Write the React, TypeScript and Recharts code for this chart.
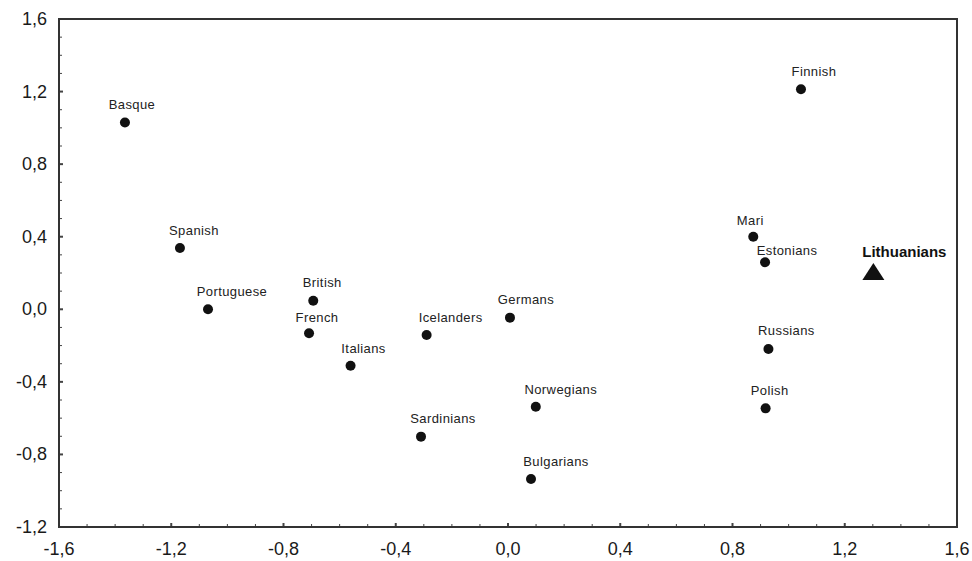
import { ScatterChart, Scatter, XAxis, YAxis } from 'recharts';

const populations = ['Basque', 'Spanish', 'Portuguese', 'British', 'French', 'Italians', 'Icelanders', 'Germans', 'Norwegians', 'Sardinians', 'Bulgarians', 'Finnish', 'Mari', 'Estonians', 'Russians', 'Polish'];
const dim1 = [-1.365, -1.169, -1.069, -0.694, -0.709, -0.561, -0.29, 0.007, 0.099, -0.31, 0.082, 1.044, 0.874, 0.916, 0.928, 0.918];
const dim2 = [1.03, 0.338, 0.0, 0.047, -0.132, -0.311, -0.142, -0.046, -0.537, -0.702, -0.935, 1.213, 0.4, 0.259, -0.219, -0.546];

const target = ['Lithuanians'];
const targetX = [1.302];
const targetY = [0.205];

const xTicks = [-1.6, -1.5, -1.4, -1.3, -1.2, -1.1, -1.0, -0.9, -0.8, -0.7, -0.6, -0.5, -0.4, -0.3, -0.2, -0.1, 0, 0.1, 0.2, 0.3, 0.4, 0.5, 0.6, 0.7, 0.8, 0.9, 1.0, 1.1, 1.2, 1.3, 1.4, 1.5, 1.6];
const yTicks = [-1.2, -1.1, -1.0, -0.9, -0.8, -0.7, -0.6, -0.5, -0.4, -0.3, -0.2, -0.1, 0, 0.1, 0.2, 0.3, 0.4, 0.5, 0.6, 0.7, 0.8, 0.9, 1.0, 1.1, 1.2, 1.3, 1.4, 1.5, 1.6];

// label placement relative to the marker (dx, dy to text baseline)
const labelOffset: Record<string, [number, number]> = {
  Basque: [7, -13],
  Spanish: [14, -13],
  Portuguese: [24, -13],
  British: [9, -14],
  French: [8, -11],
  Italians: [13, -13],
  Icelanders: [24, -13],
  Germans: [16, -14],
  Norwegians: [25, -13],
  Sardinians: [22, -14],
  Bulgarians: [25, -13],
  Finnish: [13, -13],
  Mari: [-3, -12],
  Estonians: [22, -7],
  Russians: [18, -14],
  Polish: [4, -13],
  Lithuanians: [31, -15],
};

const points = populations.map((name, i) => ({ name, x: dim1[i], y: dim2[i] }));
const targetPoints = target.map((name, i) => ({ name, x: targetX[i], y: targetY[i] }));

const FONT = '"Liberation Sans", Arial, sans-serif';
const W = 972;
const H = 561;
const M = { top: 19, right: 15, left: 0, bottom: 0 };
const Y_W = 59;
const X_H = 34;

const isMajor = (v: number) => Math.abs(Math.round(v * 10)) % 4 === 0;
const fmt = (v: number) => v.toFixed(1).replace('.', ',');

const XTick = (props: any) => {
  const { x, y, payload } = props;
  const major = isMajor(payload.value);
  return (
    <g>
      <line x1={x} x2={x} y1={y} y2={y - (major ? 4 : 3)} stroke="#444" strokeWidth={major ? 2 : 1} />
      {major && (
        <text x={x} y={y + 28} textAnchor="middle" fontSize={18} fill="#1a1a1a" fontFamily={FONT}>
          {fmt(payload.value)}
        </text>
      )}
    </g>
  );
};

const YTick = (props: any) => {
  const { x, y, payload } = props;
  const major = isMajor(payload.value);
  return (
    <g>
      <line x1={x} x2={x + (major ? 4 : 3)} y1={y} y2={y} stroke="#444" strokeWidth={major ? 2 : 1} />
      {major && (
        <text x={x - 12} y={y + 6} textAnchor="end" fontSize={18} fill="#1a1a1a" fontFamily={FONT}>
          {fmt(payload.value)}
        </text>
      )}
    </g>
  );
};

const DotShape = (props: any) => {
  const { cx, cy, payload } = props;
  const [dx, dy] = labelOffset[payload.name] || [0, -13];
  return (
    <g>
      <circle cx={cx} cy={cy} r={5} fill="#111" />
      <text x={cx + dx} y={cy + dy} textAnchor="middle" fontSize={13} fill="#222" fontFamily={FONT} letterSpacing={0.4}>
        {payload.name}
      </text>
    </g>
  );
};

const TriangleShape = (props: any) => {
  const { cx, cy, payload } = props;
  const [dx, dy] = labelOffset[payload.name] || [0, -13];
  return (
    <g>
      <polygon points={`${cx - 11},${cy + 8} ${cx + 11},${cy + 8} ${cx},${cy - 9}`} fill="#111" />
      <text x={cx + dx} y={cy + dy} textAnchor="middle" fontSize={15} fontWeight="bold" fill="#111" fontFamily={FONT}>
        {payload.name}
      </text>
    </g>
  );
};

export default function App() {
  // plot box follows from the chart margins and axis sizes
  const plotLeft = M.left + Y_W;
  const plotTop = M.top;
  const plotW = W - plotLeft - M.right;
  const plotH = H - M.top - M.bottom - X_H;
  return (
    <div style={{ position: 'absolute', left: 0, top: 0, width: W, height: H, background: '#fff' }}>
      <ScatterChart width={W} height={H} margin={M}>
        <XAxis
          type="number"
          dataKey="x"
          domain={[-1.6, 1.6]}
          ticks={xTicks}
          interval={0}
          height={X_H}
          tickSize={0}
          tickMargin={0}
          tickLine={false}
          tick={<XTick />}
          axisLine={{ stroke: '#333', strokeWidth: 2 }}
          allowDataOverflow
        />
        <YAxis
          type="number"
          dataKey="y"
          domain={[-1.2, 1.6]}
          ticks={yTicks}
          interval={0}
          width={Y_W}
          tickSize={0}
          tickMargin={0}
          tickLine={false}
          tick={<YTick />}
          axisLine={{ stroke: '#333', strokeWidth: 2 }}
          allowDataOverflow
        />
        <Scatter data={points} shape={<DotShape />} isAnimationActive={false} />
        <Scatter data={targetPoints} shape={<TriangleShape />} isAnimationActive={false} />
      </ScatterChart>
      <div
        style={{
          position: 'absolute',
          left: plotLeft - 1,
          top: plotTop - 1,
          width: plotW + 2,
          height: plotH + 2,
          border: '2px solid #333',
          boxSizing: 'border-box',
          pointerEvents: 'none',
        }}
      />
    </div>
  );
}
